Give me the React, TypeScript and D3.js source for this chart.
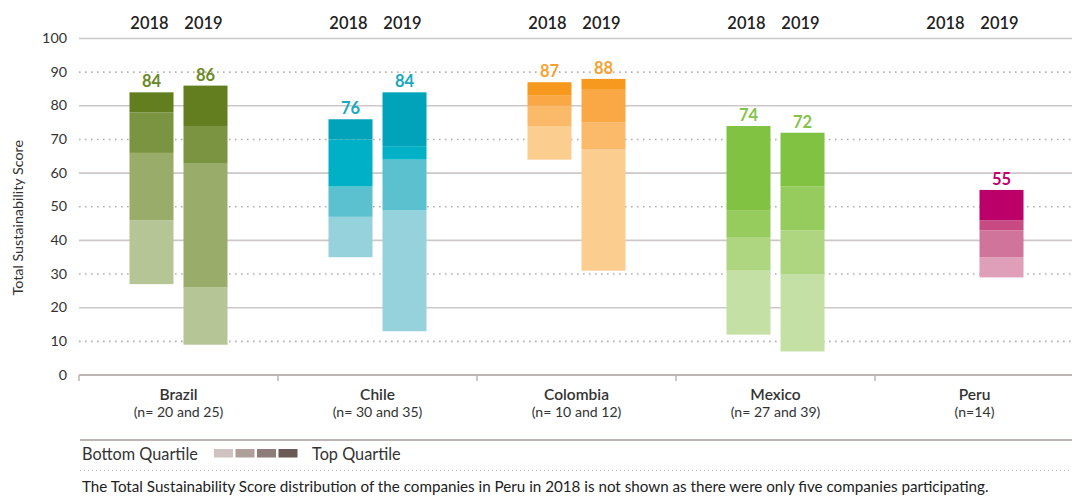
import * as d3 from 'd3';

// Score distribution per country: [min, Q1, median, Q3, max] for 2018 and 2019
const countries = ['Brazil', 'Chile', 'Colombia', 'Mexico', 'Peru'];
const sampleSizes = ['(n= 20 and 25)', '(n= 30 and 35)', '(n= 10 and 12)', '(n= 27 and 39)', '(n=14)'];
const years = ['2018', '2019'];

const brazil = [[27, 46, 66, 78, 84], [9, 26, 63, 74, 86]];
const chile = [[35, 47, 56, 70, 76], [13, 49, 64, 68, 84]];
const colombia = [[64, 74, 80, 83, 87], [31, 67, 75, 85, 88]];
const mexico = [[12, 31, 41, 49, 74], [7, 30, 43, 56, 72]];
const peru = [null, [29, 35, 43, 46, 55]];

const yTicks = [0, 10, 20, 30, 40, 50, 60, 70, 80, 90, 100];

// bottom quartile -> top quartile
const palettes = [
  ['#b5c596', '#9aac6a', '#7b9441', '#627e1f'],
  ['#96d2dc', '#5bc1cf', '#00b0c6', '#00a3b9'],
  ['#fbcd8f', '#fbb96a', '#f9a845', '#f7991f'],
  ['#c5e0a5', '#aed57f', '#96cb5e', '#82c242'],
  ['#e09fb9', '#d1749c', '#c84a82', '#bc006a'],
];
const labelColors = ['#6b8a24', '#17a9bd', '#f7a133', '#86c34a', '#c1006d'];
const legendColors = ['#cec3c0', '#ae9f9b', '#8d7c78', '#6a5a55'];

const font = 'Lato, "Open Sans", sans-serif';

export default function App() {
  const width = 1072;
  const height = 500;
  const series = [brazil, chile, colombia, mexico, peru];

  const x = d3.scaleBand<string>().domain(countries).range([79, 1074]);
  const xYear = d3.scaleBand<string>()
    .domain(years)
    .range([0, x.bandwidth()])
    .paddingInner(0.185)
    .paddingOuter(0.935);
  const y = d3.scaleLinear().domain([0, 100]).range([375, 38.5]);

  return (
    <svg width={width} height={height} style={{ position: 'absolute', left: 0, top: 0, fontFamily: font }}>
      <rect width={width} height={height} fill="#fff" />

      {/* grid */}
      {yTicks.filter(t => t > 0).map(t => (
        <line
          key={t}
          x1={79}
          x2={width}
          y1={y(t)}
          y2={y(t)}
          stroke={t % 20 === 0 ? '#cdc7c8' : '#b4b0b0'}
          strokeWidth={t % 20 === 0 ? 1.6 : 1.6}
          strokeDasharray={t % 20 === 0 ? undefined : '1.6 4.4'}
        />
      ))}
      {yTicks.map(t => (
        <text key={t} x={67} y={y(t) + 4.5} textAnchor="end" fontSize={14.3} fill="#333">{t}</text>
      ))}
      <text
        transform={`translate(23, ${y(50) + 11}) rotate(-90)`}
        textAnchor="middle"
        fontSize={14.3}
        fill="#333"
      >Total Sustainability Score</text>

      {/* bars */}
      {series.map((s, ci) => (
        <g key={countries[ci]} transform={`translate(${x(countries[ci])},0)`}>
          {years.map(yr => (
            <text key={yr} x={(xYear(yr) ?? 0) + xYear.bandwidth() / 2 - 2} y={29} textAnchor="middle" fontSize={16.5} fontWeight={600} fill="#222">{yr}</text>
          ))}
          {s.map((q, yi) => {
            if (!q) return null;
            const bx = xYear(years[yi]) ?? 0;
            return (
              <g key={yi}>
                {[0, 1, 2, 3].map(k => (
                  <rect
                    key={k}
                    x={bx}
                    width={xYear.bandwidth()}
                    y={y(q[k + 1])}
                    height={y(q[k]) - y(q[k + 1])}
                    fill={palettes[ci][k]}
                  />
                ))}
                <text
                  x={bx + xYear.bandwidth() / 2}
                  y={y(q[4]) - 5}
                  textAnchor="middle"
                  fontSize={16.5}
                  fontWeight={700}
                  fill={labelColors[ci]}
                >{q[4]}</text>
              </g>
            );
          })}
          <text x={x.bandwidth() / 2} y={400} textAnchor="middle" fontSize={15.5} fontWeight={600} fill="#333">{countries[ci]}</text>
          <text x={x.bandwidth() / 2} y={417} textAnchor="middle" fontSize={14.1} fill="#333">{sampleSizes[ci]}</text>
        </g>
      ))}

      {/* x axis */}
      <line x1={79} x2={width} y1={y(0)} y2={y(0)} stroke="#bcb5b3" strokeWidth={2} />
      {countries.map(c => (
        <line key={c} x1={x(c)} x2={x(c)} y1={y(0)} y2={y(0) + 6} stroke="#bcb5b3" strokeWidth={1.5} />
      ))}

      {/* legend */}
      <line x1={80} x2={width} y1={440} y2={440} stroke="#bcb5b3" strokeWidth={2} />
      <text x={82} y={460} fontSize={16.3} fill="#333">Bottom Quartile</text>
      {legendColors.map((c, i) => (
        <rect key={c} x={214 + i * 21.5} y={449} width={19} height={8.5} fill={c} />
      ))}
      <text x={312} y={460} fontSize={16.3} fill="#333">Top Quartile</text>
      <line x1={80} x2={width} y1={470.5} y2={470.5} stroke="#c4c0c0" strokeWidth={1} strokeDasharray="1 3" />
      <text x={82} y={492} fontSize={15.2} fill="#222">
        The Total Sustainability Score distribution of the companies in Peru in 2018 is not shown as there were only five companies participating.
      </text>
    </svg>
  );
}
